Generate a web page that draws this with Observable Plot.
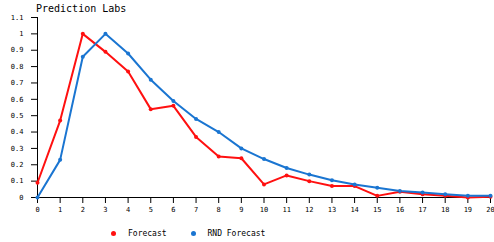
<!DOCTYPE html>
<html>
<head>
<meta charset="utf-8">
<script src="https://cdn.jsdelivr.net/npm/d3@7"></script>
<script src="https://cdn.jsdelivr.net/npm/@observablehq/plot@0.6"></script>
<style>
  html, body { margin: 0; padding: 0; background: #fff; }
  #wrap { position: relative; width: 494px; height: 242px; overflow: hidden; }
  #title { position: absolute; left: 36px; top: 3px; font: 10px "DejaVu Sans Mono", monospace; color: #000; }
  #legend { position: absolute; left: 111px; top: 229px; font: 8px "DejaVu Sans Mono", monospace; color: #000; display: flex; align-items: center; }
  .sw { display: inline-block; width: 5px; height: 5px; border-radius: 50%; margin-right: 12px; }
  .it { display: flex; align-items: center; margin-right: 24px; }
</style>
</head>
<body>
<div id="wrap">
  <div id="chart"></div>
  <div id="title">Prediction Labs</div>
  <div id="legend"></div>
</div>
<script>
const xValues = [0,1,2,3,4,5,6,7,8,9,10,11,12,13,14,15,16,17,18,19,20];
const forecast = [0.09,0.47,1.0,0.89,0.77,0.54,0.56,0.37,0.25,0.24,0.08,0.135,0.10,0.07,0.07,0.01,0.035,0.02,0.01,0.0,0.005];
const rndForecast = [0.0,0.23,0.86,1.0,0.88,0.72,0.59,0.48,0.40,0.30,0.235,0.18,0.14,0.105,0.08,0.06,0.04,0.03,0.02,0.01,0.01];
const seriesNames = ["Forecast", "RND Forecast"];
const seriesColors = ["#ff1010", "#1a75d1"];
const yTicks = [0,0.1,0.2,0.3,0.4,0.5,0.6,0.7,0.8,0.9,1,1.1];

const data = [];
xValues.forEach((x, i) => {
  data.push({x, y: forecast[i], s: seriesNames[0]});
  data.push({x, y: rndForecast[i], s: seriesNames[1]});
});

const chart = Plot.plot({
  width: 494,
  height: 242,
  marginLeft: 37,
  marginRight: 4,
  marginTop: 17,
  marginBottom: 45,
  style: {fontFamily: "DejaVu Sans Mono, monospace", fontSize: "7px", color: "#000", background: "#fff"},
  x: {domain: [0, 20], ticks: xValues, tickFormat: d => String(d), label: null, tickSize: 6, tickPadding: 4},
  y: {domain: [0, 1.1], ticks: yTicks, tickFormat: d => d3.format("")(+d.toFixed(1)), label: null, tickSize: 6, tickPadding: 8},
  color: {domain: seriesNames, range: seriesColors},
  marks: [
    Plot.ruleY([0], {stroke: "#000", strokeWidth: 1}),
    Plot.ruleX([0], {stroke: "#000", strokeWidth: 1}),
    Plot.line(data, {x: "x", y: "y", z: "s", stroke: "s", strokeWidth: 2}),
    Plot.dot(data, {x: "x", y: "y", fill: "s", r: 2})
  ]
});
document.getElementById("chart").appendChild(chart);

const legend = document.getElementById("legend");
seriesNames.forEach((n, i) => {
  const it = document.createElement("span");
  it.className = "it";
  const sw = document.createElement("span");
  sw.className = "sw";
  sw.style.background = seriesColors[i];
  it.appendChild(sw);
  it.appendChild(document.createTextNode(n));
  legend.appendChild(it);
});
</script>
</body>
</html>
